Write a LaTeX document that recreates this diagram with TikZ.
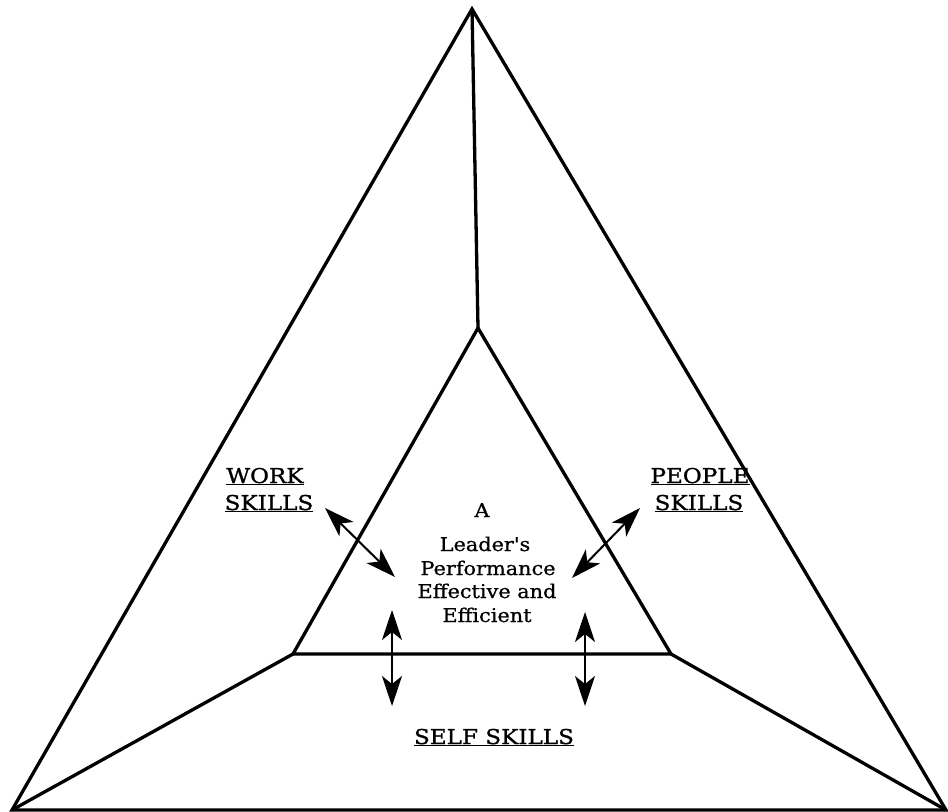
\documentclass[tikz,border=0pt]{standalone}
\usepackage{fontspec}
\setmainfont{DejaVu Serif}[Ligatures=TeXOff]
\newfontfamily\ctrfont{DejaVu Serif}[Ligatures=TeXOff,FakeStretch=1.1,FakeBold=0.8]
\newfontfamily\lblfont{DejaVu Serif}[Ligatures=TeXOff,FakeStretch=1.13,FakeBold=1.2]
\usetikzlibrary{arrows.meta}
\begin{document}
\begin{tikzpicture}[x=1bp,y=-1bp,
  edge/.style={line width=3.3bp,line join=miter},
  dbl/.style={line width=2bp,{Stealth[length=30bp,width=20bp,inset=8bp]}-{Stealth[length=30bp,width=20bp,inset=8bp]}},
  lbl/.style={font=\lblfont\fontsize{20.5}{24}\selectfont,anchor=base,inner sep=0pt},
  ctr/.style={font=\ctrfont\fontsize{19}{23}\selectfont,anchor=base,inner sep=0pt}]
\useasboundingbox (0,0) rectangle (948,812);
\coordinate (T) at (472,9);
\coordinate (L) at (12,810);
\coordinate (R) at (946,810);
\coordinate (t) at (478,328);
\coordinate (l) at (293,654);
\coordinate (r) at (671,654);
\draw[edge] (T) -- (L) -- (R) -- cycle;
\draw[edge] (t) -- (l) -- (r) -- cycle;
\draw[edge] (T) -- (t);
\draw[edge] (L) -- (l);
\draw[edge] (R) -- (r);
\node[ctr] (c1) at (482,517) {A};
\node[ctr] (c2) at (485,551) {Leader's};
\node[ctr] (c3) at (488,575) {Performance};
\node[ctr] (c4) at (487,598) {Effective and};
\node[ctr] (c5) at (487,622) {Efficient};
\node[lbl] (w1t) at (265,483) {\underline{WORK}};
\node[lbl] (w2t) at (269,510) {\underline{SKILLS}};
\node[lbl] (p1t) at (700,483) {\underline{PEOPLE}};
\node[lbl] (p2t) at (699,510) {\underline{SKILLS}};
\node[lbl] (s) at (494,744) {\underline{SELF SKILLS}};
\coordinate (w1) at (325,508);
\coordinate (w2) at (395,577);
\coordinate (p1) at (640,508);
\coordinate (p2) at (572,578);
\coordinate (a1) at (392,610);
\coordinate (a2) at (392,706);
\coordinate (b1) at (585,612);
\coordinate (b2) at (585,706);
\draw[dbl] (w1) -- (w2);
\draw[dbl] (p1) -- (p2);
\draw[dbl] (a1) -- (a2);
\draw[dbl] (b1) -- (b2);
\end{tikzpicture}
\end{document}
